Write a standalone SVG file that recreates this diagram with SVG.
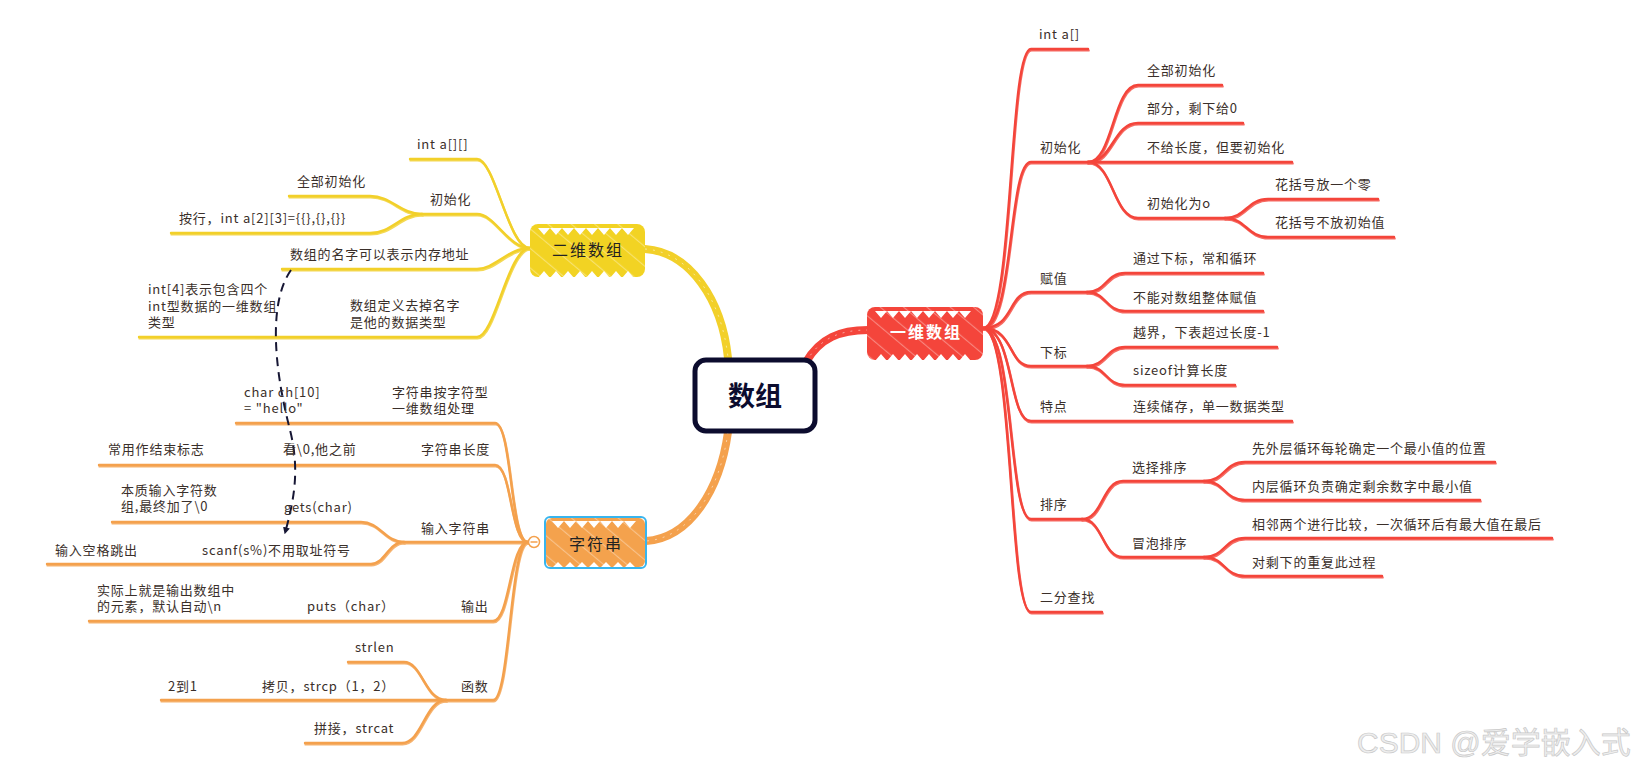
<svg xmlns="http://www.w3.org/2000/svg" xmlns:xlink="http://www.w3.org/1999/xlink" width="1637" height="768" viewBox="0 0 1637 768">
<defs>
<style>
.t{font-family:"Noto Sans CJK SC","Noto Sans",sans-serif;font-size:13px;fill:#3a2f2a;letter-spacing:0.8px}
.L{fill:none;stroke-width:2.4;stroke-linecap:round;stroke-linejoin:round}
.r{stroke:#F4453B}
.y{stroke:#F2D02A}
.o{stroke:#F4A14D}
.main{fill:none;stroke-width:8;stroke-linecap:round}
.tex{fill:none;stroke:#fff;stroke-width:1;stroke-dasharray:2 6;opacity:0.5}
.zz{fill:#fff}
.mt{font-family:"Noto Sans CJK SC","Noto Sans",sans-serif;font-size:16px;letter-spacing:2px;text-anchor:middle}
</style>
<pattern id="hR" patternUnits="userSpaceOnUse" width="15" height="15" patternTransform="rotate(-50)"><rect width="15" height="15" fill="#F4453B"/><rect width="1.1" height="15" fill="#fff" opacity="0.35"/></pattern>
<pattern id="hY" patternUnits="userSpaceOnUse" width="15" height="15" patternTransform="rotate(-50)"><rect width="15" height="15" fill="#F2D323"/><rect width="1.1" height="15" fill="#fff" opacity="0.35"/></pattern>
<pattern id="hO" patternUnits="userSpaceOnUse" width="15" height="15" patternTransform="rotate(-50)"><rect width="15" height="15" fill="#F4A24D"/><rect width="1.1" height="15" fill="#fff" opacity="0.35"/></pattern>
<marker id="arr" viewBox="0 0 10 10" refX="8" refY="5" markerWidth="7" markerHeight="7" orient="auto-start-reverse" markerUnits="userSpaceOnUse"><path d="M0,0 L10,5 L0,10 Z" fill="#161634"/></marker>
</defs>
<rect width="1637" height="768" fill="#fff"/>

<g id="connectors">
  <path class="main" stroke="#F2D02A" d="M645,249 C690,252 722,300 728,358"/>
  <path class="tex" d="M645,249 C690,252 722,300 728,358"/>
  <path class="main" stroke="#F4A14D" d="M728,432 C720,490 690,538 646,541"/>
  <path class="tex" d="M728,432 C720,490 690,538 646,541"/>
  <path class="main" stroke="#F4453B" d="M806,362 C820,338 840,330 868,330"/>
  <path class="tex" d="M806,362 C820,338 840,330 868,330"/>

  <g id="redLines" class="L r">
    <path d="M983,328 C1014,328 1008,49 1031,49 L1088,49"/>
    <path d="M983,328 C1014,328 1008,162 1031,162 L1088,162"/>
    <path d="M983,328 C1014,328 1008,292 1031,292 L1087,292"/>
    <path d="M983,328 C1014,328 1008,366 1031,366 L1087,366"/>
    <path d="M983,328 C1014,328 1008,421 1031,421 L1292,421"/>
    <path d="M983,328 C1014,328 1008,519 1031,519 L1082,519"/>
    <path d="M983,328 C1014,328 1008,612 1031,612 L1102,612"/>
    <path d="M1088,162 C1113,162 1113,85 1138,85 L1222,85"/>
    <path d="M1088,162 C1113,162 1113,123 1138,123 L1243,123"/>
    <path d="M1088,162 L1292,162"/>
    <path d="M1088,162 C1113,162 1113,218 1138,218 L1225,218"/>
    <path d="M1225,218 C1246,218 1247,199 1268,199 L1378,199"/>
    <path d="M1225,218 C1246,218 1247,237 1268,237 L1394,237"/>
    <path d="M1087,292 C1106,292 1106,273 1125,273 L1263,273"/>
    <path d="M1087,292 C1106,292 1106,311 1125,311 L1263,311"/>
    <path d="M1087,366 C1106,366 1106,347 1125,347 L1277,347"/>
    <path d="M1087,366 C1106,366 1106,385 1125,385 L1235,385"/>
    <path d="M1082,519 C1103,519 1102,481 1123,481 L1204,481"/>
    <path d="M1082,519 C1103,519 1102,557 1123,557 L1204,557"/>
    <path d="M1204,481 C1225,481 1224,462 1245,462 L1495,462"/>
    <path d="M1204,481 C1225,481 1224,500 1245,500 L1480,500"/>
    <path d="M1204,557 C1225,557 1224,538 1245,538 L1552,538"/>
    <path d="M1204,557 C1225,557 1224,576 1245,576 L1382,576"/>
  </g>
  <use xlink:href="#redLines" href="#redLines" transform="translate(0.6,1.4)" opacity="0.8"/>

  <g id="yellowLines" class="L y">
    <path d="M530,248 C508,248 495,159 477,159 L410,159"/>
    <path d="M530,248 C508,248 495,214 477,214 L422,214"/>
    <path d="M530,248 C508,248 495,269 477,269 L282,269"/>
    <path d="M530,248 C508,248 495,337 477,337 L139,337"/>
    <path d="M422,214 C400,214 392,196 370,196 L289,196"/>
    <path d="M422,214 C400,214 392,233 370,233 L171,233"/>
  </g>
  <use xlink:href="#yellowLines" href="#yellowLines" transform="translate(0.6,1.4)" opacity="0.8"/>

  <g id="orangeLines" class="L o">
    <path d="M528,542 C510,542 512,423 495,423 L236,423"/>
    <path d="M528,542 C510,542 512,465 495,465 L99,465"/>
    <path d="M528,542 L404,542"/>
    <path d="M528,542 C510,542 510,621 493,621 L89,621"/>
    <path d="M528,542 C510,542 510,700 493,700 L446,700"/>
    <path d="M404,542 C385,542 380,522 361,522 L112,522"/>
    <path d="M404,542 C388,542 385,564 371,564 L47,564"/>
    <path d="M446,700 C425,700 422,662 404,662 L348,662"/>
    <path d="M446,700 L161,700"/>
    <path d="M446,700 C425,700 422,743 402,743 L305,743"/>
  </g>
  <use xlink:href="#orangeLines" href="#orangeLines" transform="translate(0.6,1.4)" opacity="0.8"/>

  <path d="M291,270 C270,300 272,360 290,430 C300,470 294,500 285,533" fill="none" stroke="#161634" stroke-width="2" stroke-dasharray="9 6" marker-end="url(#arr)"/>
</g>

<g id="node-center">
  <rect x="695" y="360" width="120" height="71" rx="11" fill="#fff" stroke="#0c0c2e" stroke-width="5"/>
  <text x="755" y="406" text-anchor="middle" style="font-family:'Noto Sans CJK SC','Noto Sans',sans-serif;font-size:27px;font-weight:bold;fill:#0c0c2e">数组</text>
</g>

<g id="node-1d">
  <rect x="867" y="307" width="116" height="53" rx="8" fill="url(#hR)"/>
  <path class="zz" d="M875,311 l6,7 l6,-7 l6,7 l6,-7 l6,7 l6,-7 l6,7 l6,-7 l6,7 l6,-7 l6,7 l6,-7 l6,7 l6,-7 l6,7 l6,-7 Z"/>
  <path class="zz" d="M875,361 l6,-7 l6,7 l6,-7 l6,7 l6,-7 l6,7 l6,-7 l6,7 l6,-7 l6,7 l6,-7 l6,7 l6,-7 l6,7 l6,-7 l6,7 Z"/>
  <text class="mt" x="926" y="338" style="fill:#fff;font-weight:bold">一维数组</text>
</g>

<g id="node-2d">
  <rect x="530" y="224" width="115" height="53" rx="8" fill="url(#hY)"/>
  <path class="zz" d="M538,228 l6,7 l6,-7 l6,7 l6,-7 l6,7 l6,-7 l6,7 l6,-7 l6,7 l6,-7 l6,7 l6,-7 l6,7 l6,-7 l6,7 l6,-7 Z"/>
  <path class="zz" d="M538,278 l6,-7 l6,7 l6,-7 l6,7 l6,-7 l6,7 l6,-7 l6,7 l6,-7 l6,7 l6,-7 l6,7 l6,-7 l6,7 l6,-7 l6,7 Z"/>
  <text class="mt" x="588" y="256" style="fill:#222">二维数组</text>
</g>

<g id="node-str">
  <rect x="546" y="518" width="99" height="49" rx="6" fill="url(#hO)"/>
  <path class="zz" d="M552,521 l6,7 l6,-7 l6,7 l6,-7 l6,7 l6,-7 l6,7 l6,-7 l6,7 l6,-7 l6,7 l6,-7 l6,7 l6,-7 Z"/>
  <path class="zz" d="M552,568 l6,-6 l6,6 l6,-6 l6,6 l6,-6 l6,6 l6,-6 l6,6 l6,-6 l6,6 l6,-6 l6,6 l6,-6 l6,6 Z"/>
  <rect x="545" y="517" width="101" height="51" rx="5" fill="none" stroke="#38B5EE" stroke-width="2"/>
  <text class="mt" x="596" y="550" style="fill:#222">字符串</text>
  <circle cx="534" cy="542" r="5.5" fill="#fff" stroke="#F4A14D" stroke-width="1.5"/>
  <line x1="530.5" y1="542" x2="537.5" y2="542" stroke="#F4A14D" stroke-width="1.5"/>
</g>

<g id="r-inta"><text class="t" x="1039" y="39">int a[]</text></g>
<g id="r-init"><text class="t" x="1040" y="152">初始化</text></g>
<g id="r-init-all"><text class="t" x="1147" y="75">全部初始化</text></g>
<g id="r-init-part"><text class="t" x="1147" y="113">部分，剩下给0</text></g>
<g id="r-init-nolen"><text class="t" x="1147" y="152">不给长度，但要初始化</text></g>
<g id="r-init-zero"><text class="t" x="1147" y="208">初始化为o</text></g>
<g id="r-zero-1"><text class="t" x="1275" y="189">花括号放一个零</text></g>
<g id="r-zero-2"><text class="t" x="1275" y="227">花括号不放初始值</text></g>
<g id="r-assign"><text class="t" x="1040" y="283">赋值</text></g>
<g id="r-assign-1"><text class="t" x="1133" y="263">通过下标，常和循环</text></g>
<g id="r-assign-2"><text class="t" x="1133" y="302">不能对数组整体赋值</text></g>
<g id="r-index"><text class="t" x="1040" y="357">下标</text></g>
<g id="r-index-1"><text class="t" x="1133" y="337">越界，下表超过长度-1</text></g>
<g id="r-index-2"><text class="t" x="1133" y="375">sizeof计算长度</text></g>
<g id="r-feat"><text class="t" x="1040" y="411">特点</text></g>
<g id="r-feat-1"><text class="t" x="1133" y="411">连续储存，单一数据类型</text></g>
<g id="r-sort"><text class="t" x="1040" y="509">排序</text></g>
<g id="r-sel"><text class="t" x="1132" y="472">选择排序</text></g>
<g id="r-sel-1"><text class="t" x="1252" y="453">先外层循环每轮确定一个最小值的位置</text></g>
<g id="r-sel-2"><text class="t" x="1252" y="491">内层循环负责确定剩余数字中最小值</text></g>
<g id="r-bub"><text class="t" x="1132" y="548">冒泡排序</text></g>
<g id="r-bub-1"><text class="t" x="1252" y="529">相邻两个进行比较，一次循环后有最大值在最后</text></g>
<g id="r-bub-2"><text class="t" x="1252" y="567">对剩下的重复此过程</text></g>
<g id="r-bin"><text class="t" x="1040" y="602">二分查找</text></g>

<g id="y-inta"><text class="t" x="417" y="149">int a[][]</text></g>
<g id="y-init"><text class="t" x="430" y="204">初始化</text></g>
<g id="y-init-all"><text class="t" x="297" y="186">全部初始化</text></g>
<g id="y-init-row"><text class="t" x="179" y="223">按行，int a[2][3]={{},{},{}}</text></g>
<g id="y-name"><text class="t" x="290" y="259">数组的名字可以表示内存地址</text></g>
<g id="y-type"><text class="t" x="350" y="310">数组定义去掉名字</text><text class="t" x="350" y="327">是他的数据类型</text></g>
<g id="y-type-ex"><text class="t" x="148" y="294">int[4]表示包含四个</text><text class="t" x="148" y="311">int型数据的一维数组</text><text class="t" x="148" y="327">类型</text></g>

<g id="o-char"><text class="t" x="392" y="397">字符串按字符型</text><text class="t" x="392" y="413">一维数组处理</text></g>
<g id="o-char-ex"><text class="t" x="244" y="397">char ch[10]</text><text class="t" x="244" y="413">= "hello"</text></g>
<g id="o-len"><text class="t" x="421" y="454">字符串长度</text></g>
<g id="o-len-1"><text class="t" x="283" y="454">看\0,他之前</text></g>
<g id="o-len-2"><text class="t" x="108" y="454">常用作结束标志</text></g>
<g id="o-in"><text class="t" x="421" y="533">输入字符串</text></g>
<g id="o-gets"><text class="t" x="284" y="512">gets(char)</text></g>
<g id="o-gets-1"><text class="t" x="121" y="495">本质输入字符数</text><text class="t" x="121" y="511">组,最终加了\0</text></g>
<g id="o-scanf"><text class="t" x="202" y="555">scanf(s%)不用取址符号</text></g>
<g id="o-scanf-1"><text class="t" x="55" y="555">输入空格跳出</text></g>
<g id="o-out"><text class="t" x="461" y="611">输出</text></g>
<g id="o-puts"><text class="t" x="307" y="611">puts（char）</text></g>
<g id="o-puts-1"><text class="t" x="97" y="595">实际上就是输出数组中</text><text class="t" x="97" y="611">的元素，默认自动\n</text></g>
<g id="o-func"><text class="t" x="461" y="691">函数</text></g>
<g id="o-strlen"><text class="t" x="355" y="652">strlen</text></g>
<g id="o-strcp"><text class="t" x="262" y="691">拷贝，strcp（1，2）</text></g>
<g id="o-strcp-1"><text class="t" x="168" y="691">2到1</text></g>
<g id="o-strcat"><text class="t" x="314" y="733">拼接，strcat</text></g>

<text x="1357" y="753" style="font-family:'Liberation Sans','Noto Sans CJK SC',sans-serif;font-size:30px;fill:#eeeeee;stroke:#c9c9c9;stroke-width:0.7">CSDN @爱学嵌入式</text>
</svg>
